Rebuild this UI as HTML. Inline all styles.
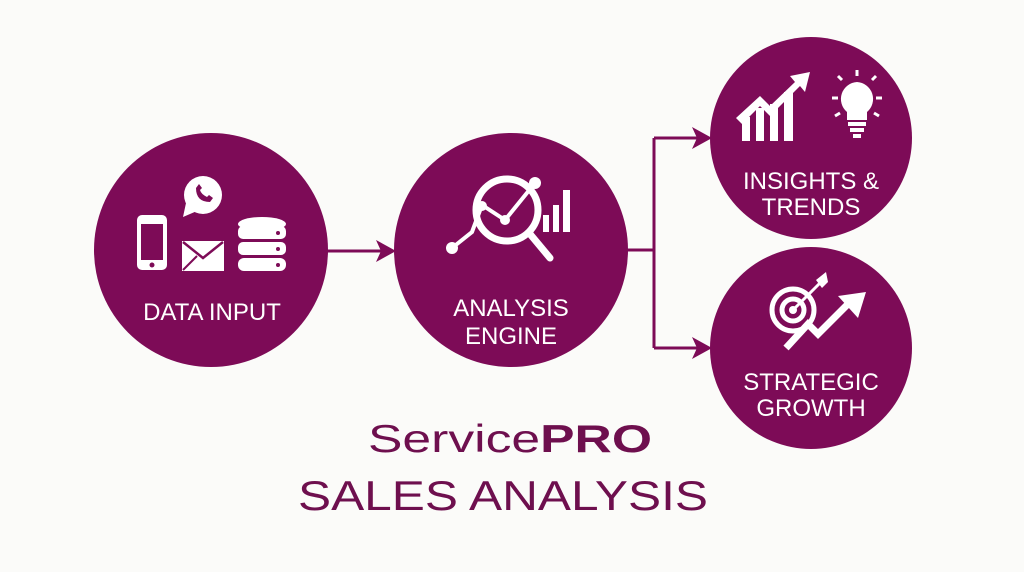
<!DOCTYPE html>
<html><head><meta charset="utf-8"><style>
html,body{margin:0;padding:0;background:#fbfbf9;}
svg{display:block;}
text{font-family:"Liberation Sans",sans-serif;}
</style></head><body>
<svg width="1024" height="572" viewBox="0 0 1024 572" xmlns="http://www.w3.org/2000/svg">
<rect width="1024" height="572" fill="#fbfbf9"/>
<g fill="#7d0b57">
<circle cx="211" cy="250" r="117"/>
<circle cx="511" cy="250" r="117"/>
<circle cx="811" cy="138" r="101"/>
<circle cx="811" cy="348" r="101"/>
</g>
<g stroke="#7d0b57" stroke-width="3" fill="none">
<line x1="326" y1="251" x2="386" y2="251"/>
<polyline points="626,250 654,250"/>
<polyline points="654,138 654,348"/>
<line x1="654" y1="138" x2="702" y2="138"/>
<line x1="654" y1="348" x2="702" y2="348"/>
</g>
<g fill="#7d0b57">
<polygon points="396,251 376,240 381,251 376,262"/>
<polygon points="712,138 692,127 697,138 692,149"/>
<polygon points="712,348 692,337 697,348 692,359"/>
</g>
<g fill="#fff" stroke="none">
<rect x="137" y="215" width="30" height="55" rx="5"/>
<rect x="141" y="224" width="22" height="36" fill="#7d0b57"/>
<circle cx="152" cy="265" r="2.5" fill="#7d0b57"/>
<circle cx="203" cy="195" r="19"/>
<polygon points="186,203 183,217 197,211"/>
<rect x="182" y="241" width="42" height="30"/>
<ellipse cx="262" cy="224" rx="24" ry="7"/>
<rect x="238" y="226" width="48" height="13" rx="5"/>
<rect x="238" y="242" width="48" height="13" rx="5"/>
<rect x="238" y="258" width="48" height="13" rx="6"/>
<circle cx="278" cy="233" r="2" fill="#7d0b57"/>
<circle cx="278" cy="249" r="2" fill="#7d0b57"/>
<circle cx="278" cy="265" r="2" fill="#7d0b57"/>
</g>
<polyline points="183,242 203,258 223,242" fill="none" stroke="#7d0b57" stroke-width="2.5"/>
<polyline points="183,270 197,256 M209,256 223,270" fill="none" stroke="#7d0b57" stroke-width="2"/>
<path d="M196 188 q0 14 14 14 l3 -4 -4 -3 -2 2 q-6 -3 -7 -7 l2 -2 -3 -4z" fill="#7d0b57"/>
<g fill="none" stroke="#fff" stroke-width="7" stroke-linecap="round">
<circle cx="507" cy="210" r="31"/>
<line x1="530" y1="234" x2="550" y2="258"/>
</g>
<g stroke="#fff" stroke-width="4" fill="none">
<polyline points="452,248 472,232 482,205 505,220 535,183"/>
</g>
<g fill="#fff">
<circle cx="452" cy="248" r="6"/><circle cx="482" cy="206" r="5"/><circle cx="505" cy="220" r="5"/><circle cx="535" cy="183" r="6"/>
<rect x="543" y="215" width="6" height="17"/><rect x="553" y="205" width="6" height="27"/><rect x="563" y="190" width="7" height="42"/>
</g>
<g fill="#fff">
<rect x="742" y="117" width="8" height="24"/><rect x="756" y="108" width="8" height="33"/><rect x="770" y="104" width="8" height="37"/><rect x="784" y="92" width="9" height="49"/>
<polygon points="736,118 760,96 770,106 795,82 790,76 810,72 805,92 800,86 770,116 760,106 742,124"/>
<path d="M857 82 a17 17 0 0 1 10 30 l0 8 -20 0 0 -8 a17 17 0 0 1 10 -30z"/>
<rect x="848" y="122" width="18" height="4"/><rect x="850" y="128" width="14" height="4"/><rect x="853" y="134" width="8" height="4"/>
</g>
<g stroke="#fff" stroke-width="3">
<line x1="857" y1="70" x2="857" y2="76"/><line x1="838" y1="98" x2="832" y2="98"/><line x1="876" y1="98" x2="882" y2="98"/>
<line x1="842" y1="80" x2="838" y2="76"/><line x1="872" y1="80" x2="876" y2="76"/>
<line x1="840" y1="113" x2="835" y2="116"/><line x1="874" y1="113" x2="879" y2="116"/>
</g>
<g fill="none" stroke="#fff" stroke-width="5">
<circle cx="793" cy="310" r="21"/><circle cx="793" cy="310" r="11"/>
</g>
<circle cx="793" cy="310" r="4" fill="#fff"/>
<line x1="793" y1="310" x2="820" y2="283" stroke="#fff" stroke-width="3"/>
<polygon points="816,280 826,272 828,282 822,288" fill="#fff"/>
<polyline points="786,348 808,324 818,334 848,304" fill="none" stroke="#fff" stroke-width="7"/>
<polygon points="838,296 866,292 858,318" fill="#fff"/>
<g fill="#fff" font-size="24" text-anchor="middle">
<text x="212" y="320">DATA INPUT</text>
<text x="511" y="316">ANALYSIS</text>
<text x="511" y="344">ENGINE</text>
<text x="811" y="189">INSIGHTS &amp;</text>
<text x="811" y="215">TRENDS</text>
<text x="811" y="390">STRATEGIC</text>
<text x="811" y="416">GROWTH</text>
</g>
<text x="368" y="452" font-size="39" fill="#6e0f4e" textLength="284" lengthAdjust="spacingAndGlyphs">Service<tspan font-weight="bold">PRO</tspan></text>
<text x="298" y="510" font-size="42" fill="#6e0f4e" textLength="410" lengthAdjust="spacingAndGlyphs">SALES ANALYSIS</text>
</svg>
</body></html>
